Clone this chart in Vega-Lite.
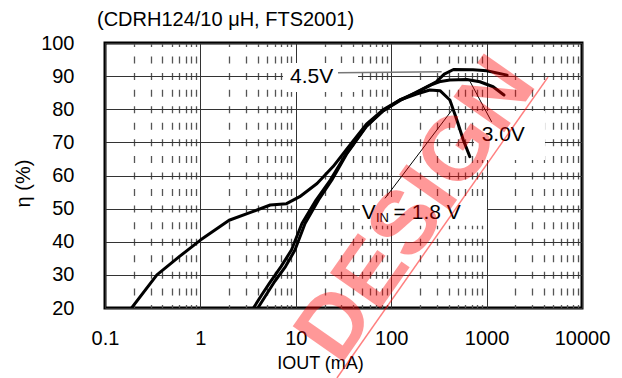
{
  "$schema": "https://vega.github.io/schema/vega-lite/v6.json",
  "autosize": {"type": "none"},
  "width": 477,
  "height": 265,
  "padding": {"left": 105, "top": 43, "right": 40, "bottom": 70},
  "background": "white",
  "config": {"view": {"stroke": "black", "strokeWidth": 3}, "font": "Liberation Sans"},
  "encoding": {
    "x": {
      "field": "I", "type": "quantitative",
      "scale": {"type": "log", "domain": [0.1, 10000], "nice": false},
      "axis": {
        "values": [0.1,0.2,0.3,0.4,0.5,0.6,0.7,0.8,0.9,1,2,3,4,5,6,7,8,9,10,20,30,40,50,60,70,80,90,100,200,300,400,500,600,700,800,900,1000,2000,3000,4000,5000,6000,7000,8000,9000,10000],
        "format": "~g",
        "labelExpr": "abs(log(datum.value)/LN10 - round(log(datum.value)/LN10)) < 0.000001 ? datum.label : ''",
        "labelOverlap": false,
        "labelFlush": false,
        "labelFontSize": 20,
        "labelColor": "black",
        "labelPadding": 20,
        "ticks": false,
        "domain": false,
        "grid": true,
        "gridColor": {"condition": {"test": "abs(log(datum.value)/LN10 - round(log(datum.value)/LN10)) < 0.000001", "value": "#333333"}, "value": "#555555"},
        "gridDash": {"condition": {"test": "abs(log(datum.value)/LN10 - round(log(datum.value)/LN10)) < 0.000001", "value": []}, "value": [7, 9.56]},
        "gridDashOffset": 3.5,
        "gridWidth": {"condition": {"test": "abs(log(datum.value)/LN10 - round(log(datum.value)/LN10)) < 0.000001", "value": 1}, "value": 1.3},
        "gridOpacity": 1,
        "title": "IOUT (mA)",
        "titleFontSize": 18,
        "titleFontWeight": "normal",
        "titleColor": "black",
        "titleX": 215,
        "titleY": 60,
        "titleBaseline": "alphabetic"
      }
    },
    "y": {
      "field": "eff", "type": "quantitative",
      "scale": {"domain": [20, 100], "nice": false, "zero": false},
      "axis": {
        "values": [20,30,40,50,60,70,80,90,100],
        "labelFontSize": 20,
        "labelColor": "black",
        "labelPadding": 31,
        "ticks": false,
        "domain": false,
        "grid": true,
        "gridColor": "#333333",
        "gridWidth": 1,
        "gridOpacity": 1,
        "title": "η (%)",
        "titleFontSize": 20,
        "titleFontWeight": "normal",
        "titleColor": "black",
        "titleX": -76,
        "titleY": 140,
        "titleBaseline": "alphabetic"
      }
    }
  },
  "layer": [
    {
      "data": {"values": [
        {"I": 7.35, "I2": 44.9, "eff": 94.0, "eff2": 85.2},
        {"I": 738, "I2": 4093, "eff": 79.5, "eff2": 64.7},
        {"I": 47.1, "I2": 1010, "eff": 53.5, "eff2": 44.8}
      ]},
      "mark": {"type": "rect", "fill": "white", "strokeWidth": 0},
      "encoding": {"x2": {"field": "I2"}, "y2": {"field": "eff2"}}
    },
    {
      "data": {"values": [
        {"vin": "1.8V", "I": 0.14, "eff": 17},
        {"vin": "1.8V", "I": 0.19, "eff": 20},
        {"vin": "1.8V", "I": 0.35, "eff": 30},
        {"vin": "1.8V", "I": 0.6, "eff": 35.5},
        {"vin": "1.8V", "I": 1.0, "eff": 40.5},
        {"vin": "1.8V", "I": 2.0, "eff": 46.5},
        {"vin": "1.8V", "I": 3.3, "eff": 48.8},
        {"vin": "1.8V", "I": 5.4, "eff": 51.1},
        {"vin": "1.8V", "I": 8.0, "eff": 51.5},
        {"vin": "1.8V", "I": 11, "eff": 53.6},
        {"vin": "1.8V", "I": 16.7, "eff": 57.6},
        {"vin": "1.8V", "I": 24.6, "eff": 62.7},
        {"vin": "1.8V", "I": 37, "eff": 69.2},
        {"vin": "1.8V", "I": 55, "eff": 75.5},
        {"vin": "1.8V", "I": 82, "eff": 79.8},
        {"vin": "1.8V", "I": 123, "eff": 82.8},
        {"vin": "1.8V", "I": 184, "eff": 84.6},
        {"vin": "1.8V", "I": 254, "eff": 85.8},
        {"vin": "1.8V", "I": 325, "eff": 85.6},
        {"vin": "1.8V", "I": 412, "eff": 82.8},
        {"vin": "1.8V", "I": 485, "eff": 77},
        {"vin": "1.8V", "I": 570, "eff": 70.7},
        {"vin": "1.8V", "I": 667, "eff": 65.7},
        {"vin": "3.0V", "I": 3.2, "eff": 17},
        {"vin": "3.0V", "I": 3.6, "eff": 20},
        {"vin": "3.0V", "I": 4.4, "eff": 24},
        {"vin": "3.0V", "I": 5.3, "eff": 27.5},
        {"vin": "3.0V", "I": 7.0, "eff": 32.5},
        {"vin": "3.0V", "I": 9.0, "eff": 37.5},
        {"vin": "3.0V", "I": 11.6, "eff": 45.5},
        {"vin": "3.0V", "I": 16.3, "eff": 52.6},
        {"vin": "3.0V", "I": 23, "eff": 58.6},
        {"vin": "3.0V", "I": 34, "eff": 66.7},
        {"vin": "3.0V", "I": 55, "eff": 75},
        {"vin": "3.0V", "I": 82, "eff": 79.5},
        {"vin": "3.0V", "I": 123, "eff": 82.6},
        {"vin": "3.0V", "I": 184, "eff": 85.2},
        {"vin": "3.0V", "I": 254, "eff": 87.2},
        {"vin": "3.0V", "I": 330, "eff": 88.4},
        {"vin": "3.0V", "I": 412, "eff": 88.8},
        {"vin": "3.0V", "I": 620, "eff": 89},
        {"vin": "3.0V", "I": 850, "eff": 88.3},
        {"vin": "3.0V", "I": 1170, "eff": 86.8},
        {"vin": "3.0V", "I": 1520, "eff": 84.3},
        {"vin": "4.5V", "I": 3.6, "eff": 17},
        {"vin": "4.5V", "I": 4.0, "eff": 20},
        {"vin": "4.5V", "I": 4.9, "eff": 24},
        {"vin": "4.5V", "I": 6.0, "eff": 28},
        {"vin": "4.5V", "I": 7.8, "eff": 32.5},
        {"vin": "4.5V", "I": 9.8, "eff": 37.5},
        {"vin": "4.5V", "I": 12.5, "eff": 45.5},
        {"vin": "4.5V", "I": 17.3, "eff": 52.6},
        {"vin": "4.5V", "I": 23.8, "eff": 58.6},
        {"vin": "4.5V", "I": 34.5, "eff": 66.7},
        {"vin": "4.5V", "I": 55, "eff": 74.8},
        {"vin": "4.5V", "I": 82, "eff": 79.5},
        {"vin": "4.5V", "I": 123, "eff": 82.8},
        {"vin": "4.5V", "I": 184, "eff": 85},
        {"vin": "4.5V", "I": 254, "eff": 87.2},
        {"vin": "4.5V", "I": 300, "eff": 88.4},
        {"vin": "4.5V", "I": 360, "eff": 90.6},
        {"vin": "4.5V", "I": 450, "eff": 92},
        {"vin": "4.5V", "I": 720, "eff": 91.9},
        {"vin": "4.5V", "I": 1000, "eff": 91.6},
        {"vin": "4.5V", "I": 1640, "eff": 90.3}
      ]},
      "mark": {"type": "line", "color": "black", "strokeWidth": 3, "strokeJoin": "round", "strokeCap": "round", "clip": true},
      "encoding": {"detail": {"field": "vin"}}
    },
    {
      "data": {"values": [
        {"I": 27.7, "I2": 338, "eff": 91.0, "eff2": 91.3}
      ]},
      "mark": {"type": "rule", "color": "#777777", "strokeWidth": 1.5},
      "encoding": {"x2": {"field": "I2"}, "y2": {"field": "eff2"}}
    },
    {
      "data": {"values": [
        {"I": 670, "I2": 1130, "eff": 88.4, "eff2": 76.2},
        {"I": 86.1, "I2": 448, "eff": 53.1, "eff2": 80.3}
      ]},
      "mark": {"type": "rule", "color": "black", "strokeWidth": 1},
      "encoding": {"x2": {"field": "I2"}, "y2": {"field": "eff2"}}
    },
    {
      "data": {"values": [
        {"label": "4.5V", "I": 8.69, "eff": 87.8},
        {"label": "3.0V", "I": 887, "eff": 70.5},
        {"label": "V", "I": 49.1, "eff": 46.8},
        {"label": "= 1.8 V", "I": 106, "eff": 46.8}
      ]},
      "mark": {"type": "text", "align": "left", "baseline": "alphabetic", "fontSize": 21, "color": "black", "font": "Liberation Sans"},
      "encoding": {"text": {"field": "label"}}
    },
    {
      "data": {"values": [
        {"label": "IN", "I": 69.3, "eff": 46.05}
      ]},
      "mark": {"type": "text", "align": "left", "baseline": "alphabetic", "fontSize": 13, "color": "black", "font": "Liberation Sans"},
      "encoding": {"text": {"field": "label"}}
    },
    {
      "data": {"values": [
        {"label": "(CDRH124/10 μH, FTS2001)", "I": 0.0824, "eff": 105.1}
      ]},
      "mark": {"type": "text", "align": "left", "baseline": "alphabetic", "fontSize": 20, "color": "black", "font": "Liberation Sans"},
      "encoding": {"text": {"field": "label"}}
    },
    {
      "data": {"values": [
        {"I": 27, "I2": 4400, "eff": -1.13, "eff2": 89.7}
      ]},
      "mark": {"type": "rule", "color": "#ff0000", "opacity": 0.5, "strokeWidth": 1.5},
      "encoding": {"x2": {"field": "I2"}, "y2": {"field": "eff2"}}
    },
    {
      "data": {"values": [
        {"label": "DESIGN", "I": 186, "eff": 49.6}
      ]},
      "mark": {"type": "text", "align": "center", "baseline": "middle", "fontSize": 90, "fontWeight": "bold", "angle": -55, "color": "#ff0000", "opacity": 0.4, "font": "Liberation Sans"},
      "encoding": {"text": {"field": "label"}}
    }
  ]
}
